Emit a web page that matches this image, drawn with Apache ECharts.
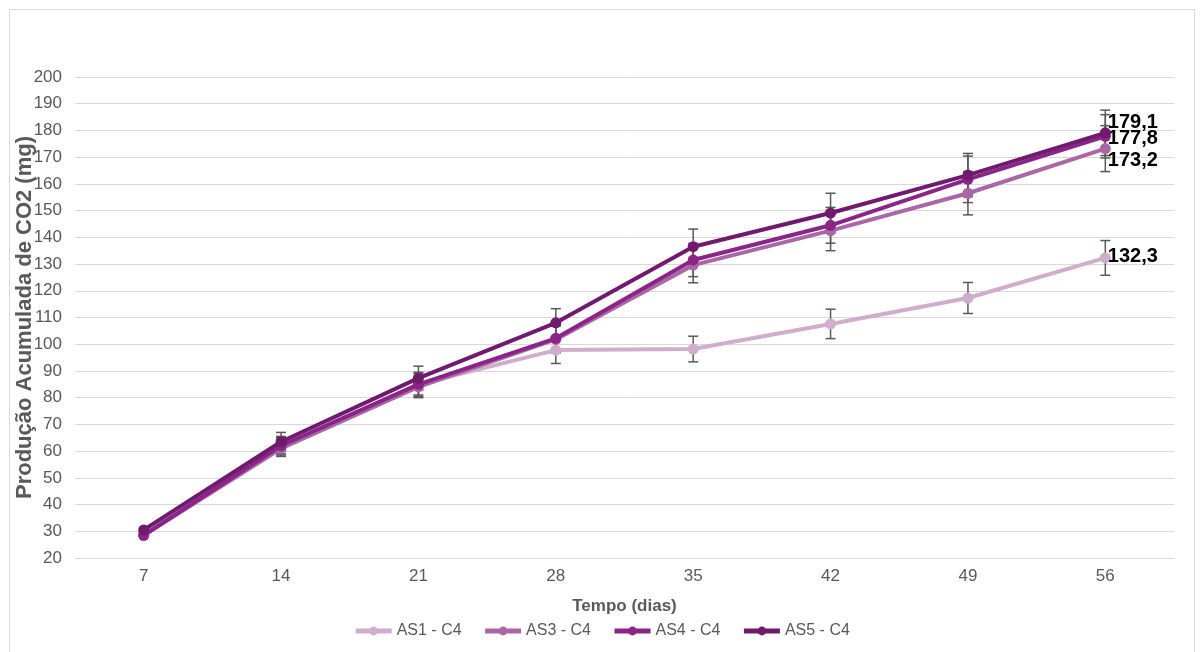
<!DOCTYPE html>
<html>
<head>
<meta charset="utf-8">
<script src="https://cdn.jsdelivr.net/npm/echarts@6/dist/echarts.min.js"></script>
<style>html,body{margin:0;padding:0;background:#fff}#c{width:1203px;height:652px}</style>
</head>
<body>
<div id="c"></div>
<script>
const categories = ['7','14','21','28','35','42','49','56'];
const seriesNames = ['AS1 - C4','AS3 - C4','AS4 - C4','AS5 - C4'];
const as1 = [29, 62, 85, 97.8, 98.2, 107.6, 117.3, 132.3];
const as3 = [28.5, 61, 84, 101.8, 129.6, 142.5, 156.5, 173.2];
const as4 = [28.5, 62, 85, 102.2, 131.5, 144.5, 161.7, 177.8];
const as5 = [30.5, 63.5, 87.3, 108, 136.5, 149.1, 163.3, 179.1];
const err1 = [0, 3, 4, 5, 4.8, 5.5, 5.8, 6.5];
const err3 = [0, 3, 4, 5, 6.6, 7.5, 8.1, 8.6];
const err4 = [0, 3.5, 4.5, 5, 6.2, 6.7, 8.7, 8.1];
const err5 = [0, 3.5, 4.5, 5.3, 6.6, 7.4, 8.1, 8.5];
const yTicksMin = 20, yTicksMax = 200, yStep = 10;

const colors = ['#cfaecd', '#aa67a5', '#8b2487', '#6f1a6d'];
const values = [as1, as3, as4, as5];
const errs = [err1, err3, err4, err5];
const labelOffsets = [[-4, -1], [-4, 12], [-4, 2], [-4, -10]];

const chart = echarts.init(document.getElementById('c'), null, {renderer: 'canvas'});
const font = 'Liberation Sans, Arial, sans-serif';

const lineSeries = values.map((v, i) => ({
  name: seriesNames[i],
  type: 'line',
  data: v.map((y, k) => ({
    value: y,
    label: k === v.length - 1 ? {
      show: true, position: 'right', distance: 1, offset: labelOffsets[i],
      formatter: p => String(p.value).replace('.', ','),
      fontSize: 20, fontWeight: 'bold', color: '#000', fontFamily: font
    } : {show: false}
  })),
  symbol: 'circle', symbolSize: 11,
  lineStyle: {width: 4, color: colors[i]},
  itemStyle: {color: colors[i]},
  z: 3 + i,
  animation: false
}));

const errSeries = values.map((v, i) => ({
  type: 'custom',
  name: 'err' + i,
  data: v.map((y, k) => [k, y - errs[i][k], y + errs[i][k]]),
  z: 2,
  animation: false,
  silent: true,
  renderItem: function (params, api) {
    const x = api.value(0);
    if (api.value(2) - api.value(1) <= 0) return null;
    const lo = api.coord([x, api.value(1)]);
    const hi = api.coord([x, api.value(2)]);
    const w = 5;
    const st = {stroke: '#595959', lineWidth: 1.5};
    return {
      type: 'group',
      children: [
        {type: 'line', shape: {x1: lo[0], y1: lo[1], x2: hi[0], y2: hi[1]}, style: st},
        {type: 'line', shape: {x1: lo[0] - w, y1: lo[1], x2: lo[0] + w, y2: lo[1]}, style: st},
        {type: 'line', shape: {x1: hi[0] - w, y1: hi[1], x2: hi[0] + w, y2: hi[1]}, style: st}
      ]
    };
  }
}));

chart.setOption({
  animation: false,
  backgroundColor: '#fff',
  textStyle: {fontFamily: font},
  graphic: [{
    type: 'rect', shape: {x: 9.5, y: 9.5, width: 1185, height: 650},
    style: {fill: 'none', stroke: '#d9d9d9', lineWidth: 1}, silent: true
  }],
  grid: {left: 75, right: 29, top: 77, bottom: 94, containLabel: false, outerBoundsMode: 'none'},
  xAxis: {
    type: 'category', data: categories, boundaryGap: true,
    name: 'Tempo (dias)', nameLocation: 'middle', nameGap: 40,
    nameTextStyle: {fontSize: 17, fontWeight: 'bold', color: '#595959', fontFamily: font},
    axisLine: {show: false}, axisTick: {show: false},
    axisLabel: {fontSize: 17, color: '#595959', margin: 10, fontFamily: font}
  },
  yAxis: {
    type: 'value', min: yTicksMin, max: yTicksMax, interval: yStep,
    name: 'Produção Acumulada de CO2 (mg)', nameLocation: 'middle', nameGap: 39,
    nameMoveOverlap: false,
    nameTextStyle: {fontSize: 22, fontWeight: 'bold', color: '#595959', fontFamily: font},
    axisLine: {show: false}, axisTick: {show: false},
    axisLabel: {fontSize: 17, color: '#595959', margin: 13, fontFamily: font},
    splitLine: {lineStyle: {color: '#d9d9d9', width: 1}}
  },
  legend: {
    data: seriesNames, bottom: 8, left: 'center',
    itemWidth: 36, itemHeight: 11, itemGap: 21,
    lineStyle: {width: 5},
    textStyle: {fontSize: 16, color: '#595959', fontFamily: font}
  },
  series: lineSeries.concat(errSeries)
});
</script>
</body>
</html>
